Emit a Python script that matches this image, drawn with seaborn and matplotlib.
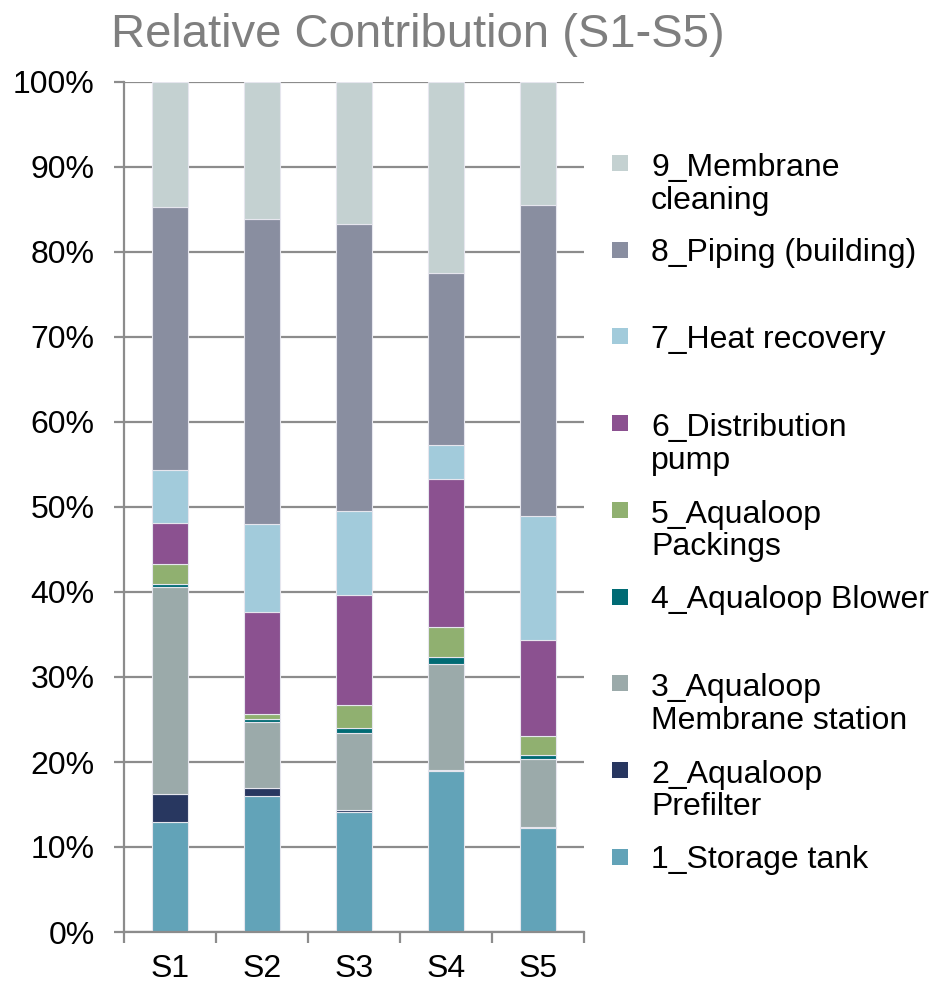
import matplotlib
matplotlib.use("Agg")
import matplotlib.pyplot as plt
from matplotlib.patches import Rectangle
from matplotlib.ticker import PercentFormatter, FixedLocator
import seaborn as sns
import pandas as pd

scenarios = ["S1", "S2", "S3", "S4", "S5"]
components = ["1_Storage tank", "2_Aqualoop\nPrefilter", "3_Aqualoop\nMembrane station",
              "4_Aqualoop Blower", "5_Aqualoop\nPackings", "6_Distribution\npump",
              "7_Heat recovery", "8_Piping (building)", "9_Membrane\ncleaning"]
colors = ["#62A3B8", "#283760", "#9BAAAA", "#006B74", "#90B070",
          "#8B5190", "#A2CBDB", "#898EA0", "#C4D1D1"]

# percent share of each component, one list per scenario (bottom to top)
s1 = [13.0, 3.2, 24.4, 0.3, 2.4, 4.8, 6.3, 30.9, 14.7]
s2 = [16.0, 0.9, 7.8, 0.4, 0.6, 12.0, 10.3, 35.9, 16.1]
s3 = [14.1, 0.2, 9.1, 0.6, 2.7, 12.9, 9.9, 33.8, 16.7]
s4 = [18.9, 0.2, 12.4, 0.8, 3.6, 17.4, 4.0, 20.2, 22.5]
s5 = [12.2, 0.2, 8.0, 0.4, 2.3, 11.3, 14.5, 36.6, 14.5]

rows = []
for sc, vals in zip(scenarios, [s1, s2, s3, s4, s5]):
    for comp, v in zip(components, vals):
        rows.append({"scenario": sc, "component": comp, "value": v})
df = pd.DataFrame(rows)

sns.set_style("white")
plt.rcParams["font.family"] = ["Liberation Sans", "DejaVu Sans"]

W, H = 938, 985
fig = plt.figure(figsize=(W / 100, H / 100), dpi=100)
ax = fig.add_axes([124 / W, 1 - 932 / H, (584 - 124) / W, (932 - 82) / H])

# seaborn stacks the first hue level on top, so reverse the order
sns.histplot(data=df, x="scenario", hue="component", weights="value",
             multiple="stack", discrete=True, shrink=0.4,
             hue_order=components[::-1], palette=colors[::-1],
             edgecolor="#e6e6ee", linewidth=0.8, alpha=1, legend=False, ax=ax)

ax.set_ylim(0, 100)
ax.set_xlim(-0.5, 4.5)
ax.set_yticks(range(0, 101, 10))
ax.yaxis.set_major_formatter(PercentFormatter(100, decimals=0))
ax.set_xlabel("")
ax.set_ylabel("")
ax.set_axisbelow(True)
ax.grid(axis="y", color="#8c8c8c", linewidth=1.6)
ax.grid(axis="x", visible=False)

for s in ["top", "right"]:
    ax.spines[s].set_visible(False)
for s in ["left", "bottom"]:
    ax.spines[s].set_color("#8c8c8c")
    ax.spines[s].set_linewidth(1.6)

ax.tick_params(axis="y", which="major", left=True, length=7, width=1.6,
               color="#8c8c8c", labelsize=23, pad=14, labelcolor="black")
ax.set_xticks(range(len(scenarios)))
ax.set_xticklabels(scenarios)
ax.tick_params(axis="x", which="major", bottom=False, labelsize=23, pad=12,
               labelcolor="black")
ax.xaxis.set_minor_locator(FixedLocator([i - 0.5 for i in range(len(scenarios) + 1)]))
ax.tick_params(axis="x", which="minor", bottom=True, length=8, width=1.6,
               color="#8c8c8c")

fig.text(418 / W, 1 - 35 / H, "Relative Contribution (S1-S5)", fontsize=34,
         color="#7f7f7f", ha="center", va="center")

# legend drawn by hand: evenly spaced entries, wrapped text hangs below
top_y = 163
step = 86.7
line_step = 34
for i, (lab, col) in enumerate(zip(components[::-1], colors[::-1])):
    yc = top_y + i * step
    fig.add_artist(Rectangle((612 / W, 1 - (yc + 8) / H), 16 / W, 16 / H,
                             transform=fig.transFigure, facecolor=col,
                             edgecolor="none"))
    # multi-line text: baseline refers to last line
    n = lab.count("\n")
    yb = yc + 11.5 + n * line_step
    fig.text(651 / W, 1 - yb / H, lab, fontsize=23, color="black",
             ha="left", va="baseline", linespacing=1.11)

fig.savefig("out.png", dpi=100)
